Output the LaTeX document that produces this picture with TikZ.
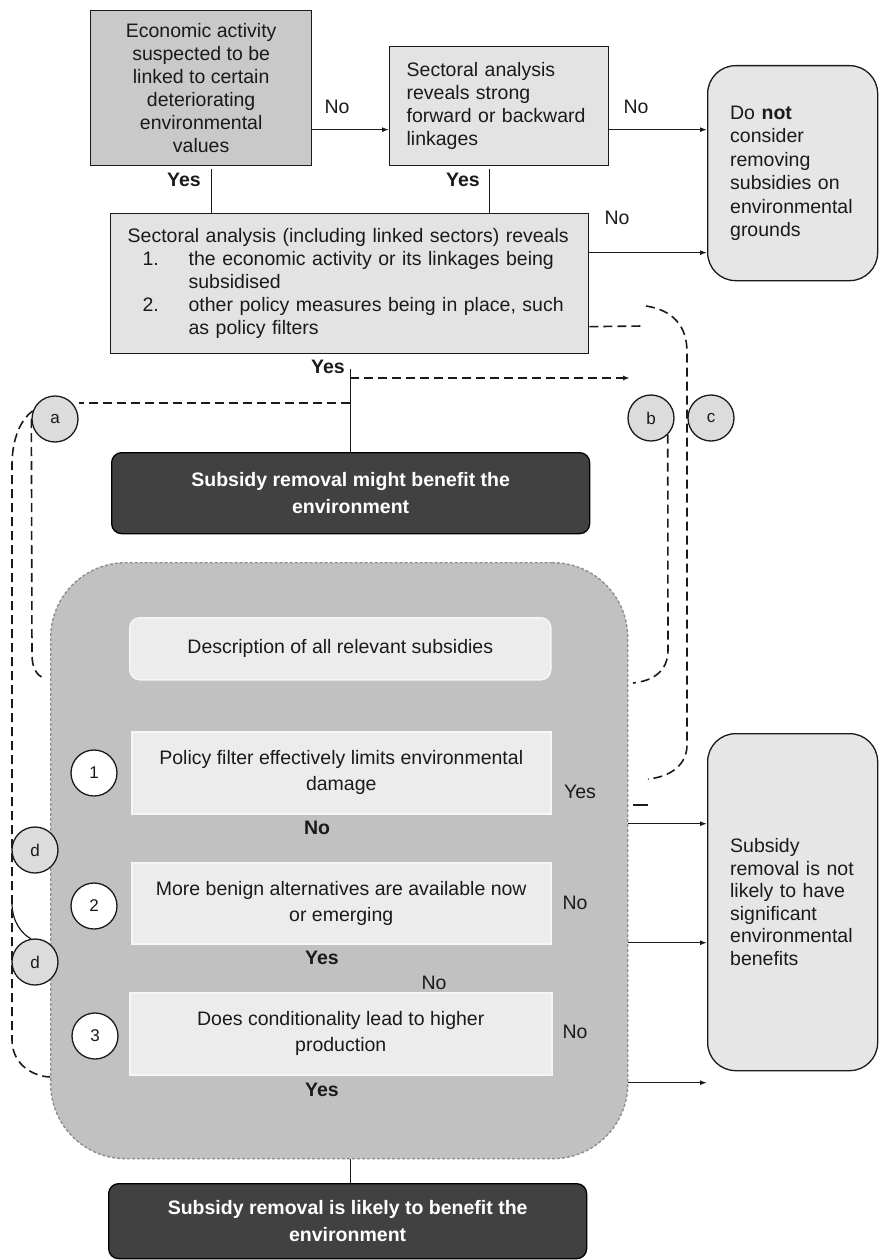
\documentclass[tikz,border=0pt]{standalone}
\usepackage{fontspec}
\setmainfont{Liberation Sans}
\usetikzlibrary{arrows.meta}
\definecolor{boxmid}{HTML}{C9C9C9}
\definecolor{boxlight}{HTML}{E3E3E3}
\definecolor{boxround}{HTML}{E6E6E6}
\definecolor{darkbox}{HTML}{414141}
\definecolor{contfill}{HTML}{C1C1C1}
\definecolor{contline}{HTML}{8E8E8E}
\definecolor{innerfill}{HTML}{ECECEC}
\definecolor{innerline}{HTML}{F6F6F6}
\definecolor{circfill}{HTML}{DCDCDC}
\definecolor{ink}{HTML}{1A1A1A}
\newcommand\fsz{\fontsize{19.5}{23}\selectfont}
\newcommand\fcirc{\fontsize{17}{20}\selectfont}
\begin{document}
\begin{tikzpicture}[x=1pt,y=-1pt,
  every node/.style={inner sep=0pt, text=ink},
  font=\fsz,
  box/.style={draw=ink, line width=1.3pt, anchor=north west},
  rbox/.style={box, rounded corners=28pt, fill=boxround},
  dbox/.style={draw=black, line width=1.3pt, anchor=north west, fill=darkbox, rounded corners=10pt,
     align=center, font=\fontsize{19.5}{27}\selectfont\bfseries, text=white},
  ibox/.style={draw=innerline, line width=1.5pt, fill=innerfill, anchor=north west, align=center,
     font=\fontsize{19.5}{26}\selectfont},
  circ/.style={circle, draw=ink, line width=1.3pt, minimum size=46pt, font=\fcirc},
  lbl/.style={font=\fsz},
  lblb/.style={font=\fsz\bfseries},
  arr/.style={draw=ink, line width=1.2pt, -{Latex[length=7pt,width=5pt]}},
  conn/.style={draw=ink, line width=1.2pt},
  dsh/.style={draw=ink, line width=1.6pt, dash pattern=on 9pt off 5pt},
]
\useasboundingbox (0,0) rectangle (879,1260);

% top boxes
\node[box, fill=boxmid, minimum width=221pt, minimum height=155pt, align=center] (b1) at (90,10)
  {Economic activity\\suspected to be\\linked to certain\\deteriorating\\environmental\\values};
\node[box, fill=boxlight, minimum width=219pt, minimum height=119pt, text width=185pt, align=left] (b2) at (389,46)
  {Sectoral analysis\\reveals strong\\forward or backward\\linkages};
\node[rbox, minimum width=170pt, minimum height=215pt, text width=125pt, align=left,
      font=\fontsize{19.5}{23.5}\selectfont] (dn) at (707,65)
  {Do \textbf{not}\\consider\\removing\\subsidies on\\environmental\\grounds};
\node[box, fill=boxlight, minimum width=478pt, minimum height=140pt, text width=444pt, align=left] (b4) at (110,213)
  {Sectoral analysis (including linked sectors) reveals\\
   \hspace*{15pt}\makebox[46pt][l]{1.}the economic activity or its linkages being\\
   \hspace*{61pt}subsidised\\
   \hspace*{15pt}\makebox[46pt][l]{2.}other policy measures being in place, such\\
   \hspace*{61pt}as policy filters};

% top connectors
\draw[arr] ([yshift=-41.5pt]b1.east) -- ([yshift=-41.5pt]b1.east -| b2.west);
\draw[arr] ([yshift=-23.5pt]b2.east) -- ([yshift=-23.5pt]b2.east -| dn.west);
\draw[arr] ([yshift=31pt]b4.east) -- ([yshift=31pt]b4.east -| dn.west);
\draw[conn] ([xshift=10.5pt,yshift=-3pt]b1.south) -- ([xshift=10.5pt]b1.south |- b4.north);
\draw[conn] ([xshift=-9.5pt,yshift=-3pt]b2.south) -- ([xshift=-9.5pt]b2.south |- b4.north);

\node[lbl] (lno1) at (337,107) {No};
\node[lbl] (lno2) at (636,107) {No};
\node[lblb] (lyes1) at (184,180) {Yes};
\node[lblb] (lyes2) at (463,180) {Yes};
\node[lbl] (lno3) at (617,218) {No};
\node[lblb] (lyes3) at (328,367) {Yes};

% middle dark box
\node[dbox, minimum width=478pt, minimum height=81pt] (d1) at (111,452)
  {Subsidy removal might benefit the\\environment};
\draw[conn] ([xshift=1pt,yshift=-15pt]b4.south) -- ([xshift=1pt]b4.south |- d1.north);

% circles a b c
\node[circ, fill=circfill] (ca) at (55,419) {a};
\node[circ, fill=circfill] (cb) at (651,418) {b};
\node[circ, fill=circfill] (cc) at (711,418) {c};

\coordinate (ya) at (350,378);
\coordinate (yb) at (350,403);
\coordinate (yaEnd) at (630,378);
\draw[dsh, -{Latex[length=7pt,width=5pt]}] (ya) -- (yaEnd);
\draw[dsh] (yb) -- (yb -| ca.east);

% container
\node[draw=contline, line width=1.4pt, dash pattern=on 3pt off 2pt, fill=contfill, rounded corners=75pt,
      anchor=north west, minimum width=577pt, minimum height=596pt] (cont) at (50,562) {};

\node[ibox, rounded corners=10pt, minimum width=421pt, minimum height=62pt] (desc) at (129,617)
  {Description of all relevant subsidies};
\node[ibox, minimum width=419pt, minimum height=82pt] (p1) at (131,731)
  {Policy filter effectively limits environmental\\damage};
\node[ibox, minimum width=419pt, minimum height=81pt] (p2) at (131,862)
  {More benign alternatives are available now\\or emerging};
\node[ibox, minimum width=422pt, minimum height=82pt] (p3) at (129,992)
  {Does conditionality lead to higher\\production};

\node[circ, fill=white] (c1) at (94,773) {1};
\node[circ, fill=white] (c2) at (94,906) {2};
\node[circ, fill=white] (c3) at (95,1036) {3};

\node[lblb] (lno4) at (317,828) {No};
\node[lblb] (lyes4) at (322,958) {Yes};
\node[lbl] (lno5) at (434,983) {No};
\node[lblb] (lyes5) at (322,1090) {Yes};
\node[lbl] (lyes6) at (580,792) {Yes};
\node[lbl] (lno6) at (575,903) {No};
\node[lbl] (lno7) at (575,1032) {No};

% not likely box
\node[rbox, minimum width=170pt, minimum height=337pt, text width=125pt, align=left,
      font=\fontsize{19.5}{22.5}\selectfont] (nl) at (707,733)
  {Subsidy\\removal is not\\likely to have\\significant\\environmental\\benefits};

\draw[arr] ([yshift=37pt]cont.east) -- ([yshift=37pt]cont.east -| nl.west);
\draw[arr] ([yshift=-82pt]cont.east) -- ([yshift=-82pt]cont.east -| nl.west);
\draw[arr] ([yshift=-222pt]cont.east) -- ([yshift=-222pt]cont.east -| nl.west);

% final box
\node[dbox, minimum width=478pt, minimum height=75pt] (fin) at (108,1183)
  {Subsidy removal is likely to benefit the\\environment};
\draw[conn] ([xshift=11.5pt]cont.south) -- ([xshift=11.5pt]cont.south |- fin.north);

% dashed loops
\coordinate (aIn) at (43,678);
\coordinate (aEnd) at (50,1077);
\draw[dsh] (ca.west) -- (32,655) .. controls (32,668) and (37,675) .. (aIn);
\draw[dsh] (ca.160) .. controls (20,420) and (12,440) .. (12,465) -- (12,1040)
   .. controls (12,1062) and (30,1076) .. (aEnd);

\coordinate (bEnd) at (633,683);
\draw[dsh] (cb.-45) -- (668,650) .. controls (668,672) and (652,681) .. (bEnd);

\coordinate (cH) at (643,326);
\coordinate (cTop) at (646,306);
\coordinate (cEnd) at (648,779);
\coordinate (cDashA) at (633,805);
\coordinate (cDashB) at (648,805);
\draw[dsh] ([yshift=-43pt]b4.east) -- (cH);
\draw[dsh] (cTop) .. controls (672,310) and (687,325) .. (687,352) -- (687,745)
   .. controls (687,765) and (670,777) .. (cEnd);
\draw[conn] (cDashA) -- (cDashB);

% d circles
\node[circ, fill=circfill] (cd1) at (35,850) {d};
\node[circ, fill=circfill] (cd2) at (35,962) {d};
\coordinate (dArcA) at (12,903);
\draw[conn] (dArcA) .. controls (12,922) and (22,934) .. (cd2.100);
\end{tikzpicture}
\end{document}
